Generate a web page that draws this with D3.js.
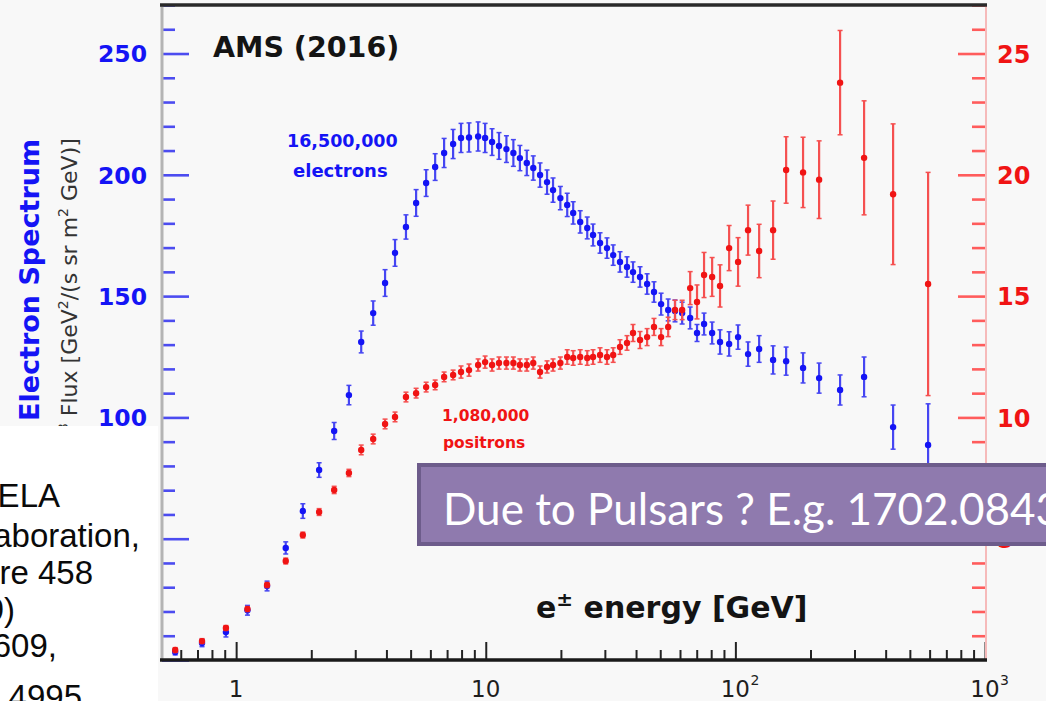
<!DOCTYPE html>
<html>
<head>
<meta charset="utf-8">
<script src="https://cdn.jsdelivr.net/npm/d3@7"></script>
<style>
  html, body { margin: 0; padding: 0; background: #f8f8f8; }
  svg { display: block; }
</style>
</head>
<body>
<svg id="chart" width="1046" height="701"></svg>
<script>
// AMS-02 (2016) electron and positron spectra, E^3-weighted flux.
// Shared energy bins [GeV]
const energy = [
  0.57, 0.73, 0.91, 1.11, 1.33, 1.58, 1.85, 2.15, 2.47, 2.83,
  3.17, 3.54, 3.95, 4.33, 4.79, 5.26, 5.77, 6.27, 6.81, 7.40,
  7.96, 8.57, 9.32, 9.94, 10.6, 11.3, 12.1, 12.9, 13.7, 14.6,
  15.5, 16.5, 17.6, 18.6, 19.9, 21.2, 22.4, 23.9, 25.5, 26.9,
  28.7, 30.6, 32.4, 34.5, 36.8, 38.9, 41.5, 44.3, 47.2, 50.4,
  53.8, 57.3, 61.2, 65.9, 70.2, 74.9, 80.7, 86.8, 94.4, 102.5,
  112.4, 124.5, 141.6, 159.7, 186.7, 216.5, 262.7, 327.8, 428.4, 591.6
];
// Electron flux x E^3 (left axis)
const electronFlux = [
  3.3, 7.0, 11.5, 20.5, 30.5, 46.2, 61.4, 78.3, 94.4, 109.2,
  131.1, 143.0, 155.4, 167.8, 178.5, 188.4, 196.6, 203.2, 209.0, 212.7,
  215.2, 215.4, 215.8, 215.2, 213.5, 211.9, 210.6, 209.0, 206.9, 204.9,
  202.8, 199.9, 197.0, 193.7, 190.4, 187.6, 184.3, 180.6, 178.1, 175.2,
  171.9, 169.8, 166.9, 164.1, 162.0, 159.9, 157.9, 155.0, 151.7, 146.7,
  144.3, 143.9, 143.0, 141.0, 134.8, 138.5, 134.8, 131.1, 130.3, 133.1,
  126.1, 128.2, 123.7, 123.2, 120.4, 116.2, 111.3, 116.7, 96.0, 88.6
];
const electronErr = [
  1.2, 1.5, 2.0, 2.0, 2.0, 2.5, 3.0, 3.0, 3.5, 4.0,
  4.5, 5.0, 5.5, 5.5, 5.0, 5.5, 5.5, 5.5, 6.0, 6.0,
  6.0, 6.0, 6.0, 6.0, 5.5, 5.5, 5.5, 5.5, 5.2, 5.2,
  5.0, 5.0, 5.0, 5.0, 4.8, 4.8, 4.6, 4.6, 4.5, 4.5,
  4.2, 4.2, 4.2, 4.2, 4.2, 4.2, 4.2, 4.2, 4.2, 4.5,
  4.5, 4.5, 4.5, 4.5, 3.5, 4.5, 4.5, 5.0, 5.0, 5.0,
  5.0, 5.5, 5.8, 5.8, 6.2, 6.2, 6.2, 8.2, 9.1, 17.0
];
// Positron flux x E^3 (right axis)
const positronFlux = [
  0.41, 0.78, 1.32, 2.10, 3.09, 4.08, 5.15, 6.10, 7.01, 7.71,
  8.66, 9.11, 9.73, 10.02, 10.84, 11.00, 11.25, 11.34, 11.67, 11.75,
  11.87, 11.95, 12.16, 12.28, 12.16, 12.24, 12.24, 12.24, 12.16, 12.16,
  12.24, 11.87, 12.08, 12.16, 12.24, 12.49, 12.45, 12.49, 12.45, 12.49,
  12.57, 12.49, 12.57, 12.90, 13.07, 13.48, 13.19, 13.31, 13.73, 13.31,
  13.73, 14.43, 14.43, 15.33, 14.76, 15.87, 15.79, 15.42, 16.98, 16.41,
  17.72, 16.86, 17.72, 20.2, 20.1, 19.8, 23.8, 20.7, 19.2, 15.5
];
const positronErr = [
  0.10, 0.10, 0.10, 0.10, 0.10, 0.12, 0.12, 0.14, 0.15, 0.15,
  0.20, 0.20, 0.20, 0.20, 0.20, 0.20, 0.20, 0.20, 0.20, 0.20,
  0.25, 0.25, 0.25, 0.25, 0.25, 0.25, 0.25, 0.25, 0.25, 0.25,
  0.25, 0.25, 0.25, 0.25, 0.25, 0.30, 0.30, 0.30, 0.30, 0.30,
  0.30, 0.30, 0.30, 0.30, 0.30, 0.35, 0.35, 0.35, 0.35, 0.35,
  0.40, 0.40, 0.40, 0.68, 0.70, 0.93, 0.80, 0.87, 0.93, 1.00,
  1.03, 1.10, 1.20, 1.37, 1.45, 1.60, 2.15, 2.35, 2.90, 4.60
];

// Tick values and labels
const leftMajorTicks = [0, 50, 100, 150, 200, 250];
const leftLabelled = [100, 150, 200, 250];
const rightMajorTicks = [5, 10, 15, 20, 25];
const xMajorTicks = [1, 10, 100, 1000];
const xTickLabels = [
  { value: 1, base: "1", exp: "" },
  { value: 10, base: "10", exp: "" },
  { value: 100, base: "10", exp: "2" },
  { value: 1000, base: "10", exp: "3" }
];
const noteLines = ["PAMELA", "Collaboration,", "Nature 458", "(2009)", "607-609,", "arXiv:0810.4995"];

const BLUE = "#1414f5";
const RED = "#f01414";
const W = 1046, H = 701;
const svg = d3.select("#chart");

const x = d3.scaleLog().domain([0.5, 1000]).range([161, 985]);
const yE = d3.scaleLinear().domain([0, 270]).range([660, 5]);
const yP = d3.scaleLinear().domain([0, 27]).range([660, 5]);

svg.append("rect").attr("width", W).attr("height", H).attr("fill", "#f8f8f8");

// ---- left (electron) axis: ticks pointing into the plot ----
const leftMinor = d3.range(0, 271, 10).filter(v => v % 50 !== 0);
const gLmin = svg.append("g").attr("transform", "translate(162,0)")
  .call(d3.axisLeft(yE).tickValues(leftMinor).tickSize(-13).tickFormat(""));
const gLmaj = svg.append("g").attr("transform", "translate(162,0)")
  .call(d3.axisLeft(yE).tickValues(leftMajorTicks).tickSize(-27).tickPadding(15)
    .tickFormat(d => leftLabelled.includes(d) ? d3.format("d")(d) : ""));
[gLmin, gLmaj].forEach(g => {
  g.select(".domain").remove();
  g.selectAll(".tick line").attr("stroke", "#4c4cf0").attr("stroke-width", 2.6);
});
gLmaj.selectAll(".tick text")
  .attr("fill", BLUE).attr("font-family", "DejaVu Sans").attr("font-weight", "bold")
  .attr("font-size", 23.5).attr("dy", "0.36em");

// ---- right (positron) axis ----
const rightMinor = d3.range(0, 27.1, 1).filter(v => v % 5 !== 0);
const gRmin = svg.append("g").attr("transform", "translate(986,0)")
  .call(d3.axisRight(yP).tickValues(rightMinor).tickSize(-14).tickFormat(""));
const gRmaj = svg.append("g").attr("transform", "translate(986,0)")
  .call(d3.axisRight(yP).tickValues(rightMajorTicks).tickSize(-28).tickPadding(11).tickFormat(d3.format("d")));
[gRmin, gRmaj].forEach(g => {
  g.select(".domain").remove();
  g.selectAll(".tick line").attr("stroke", "#ff5c5c").attr("stroke-width", 2.6);
});
gRmaj.selectAll(".tick text")
  .attr("fill", RED).attr("font-family", "DejaVu Sans").attr("font-weight", "bold")
  .attr("font-size", 24).attr("dy", "0.36em");

// ---- bottom (energy) axis ----
const xMinor = [];
[0.1, 1, 10, 100].forEach(dec => {
  for (let k = 2; k <= 9; k++) {
    const v = dec * k;
    if (v > 0.5 && v < 1000) xMinor.push(v);
  }
});
const gBmin = svg.append("g").attr("transform", "translate(0,660)")
  .call(d3.axisBottom(x).tickValues(xMinor).tickSize(-10).tickFormat(""));
const gBmaj = svg.append("g").attr("transform", "translate(0,660)")
  .call(d3.axisBottom(x).tickValues(xMajorTicks).tickSize(-18).tickFormat(""));
[gBmin, gBmaj].forEach(g => {
  g.select(".domain").remove();
  g.selectAll(".tick line").attr("stroke", "#222").attr("stroke-width", 2);
});

// frame lines
svg.append("line").attr("x1", 162).attr("x2", 162).attr("y1", 5).attr("y2", 660)
  .attr("stroke", "#b4b4b4").attr("stroke-width", 3);
svg.append("line").attr("x1", 986).attr("x2", 986).attr("y1", 5).attr("y2", 660)
  .attr("stroke", "#f6baba").attr("stroke-width", 2);
svg.append("line").attr("x1", 160).attr("x2", 987).attr("y1", 5).attr("y2", 5)
  .attr("stroke", "#2a2a2a").attr("stroke-width", 3.5);
svg.append("line").attr("x1", 160).attr("x2", 987).attr("y1", 660).attr("y2", 660)
  .attr("stroke", "#1a1a1a").attr("stroke-width", 3.5);

// energy tick labels with exponents
const xl = svg.append("g").attr("font-family", "DejaVu Sans").attr("fill", "#1e1e1e");
xTickLabels.forEach(t => {
  xl.append("text").attr("x", x(t.value)).attr("y", 697).attr("text-anchor", "middle")
    .attr("font-size", 23).text(t.base);
  if (t.exp) {
    xl.append("text").attr("x", x(t.value) + 15).attr("y", 685)
      .attr("font-size", 14).text(t.exp);
  }
});

// ---- data: error bars and markers ----
function drawSeries(values, errs, yScale, color, barColor) {
  const pts = energy.map((e, i) => ({ e, v: values[i], err: errs[i] }));
  const g = svg.append("g");
  g.selectAll("line.bar").data(pts).join("line").attr("class", "bar")
    .attr("x1", d => x(d.e)).attr("x2", d => x(d.e))
    .attr("y1", d => yScale(d.v - d.err)).attr("y2", d => yScale(d.v + d.err))
    .attr("stroke", barColor).attr("stroke-width", 2.2);
  g.selectAll("line.capTop").data(pts).join("line").attr("class", "capTop")
    .attr("x1", d => x(d.e) - 2.5).attr("x2", d => x(d.e) + 2.5)
    .attr("y1", d => yScale(d.v + d.err)).attr("y2", d => yScale(d.v + d.err))
    .attr("stroke", barColor).attr("stroke-width", 1.5);
  g.selectAll("line.capBot").data(pts).join("line").attr("class", "capBot")
    .attr("x1", d => x(d.e) - 2.5).attr("x2", d => x(d.e) + 2.5)
    .attr("y1", d => yScale(d.v - d.err)).attr("y2", d => yScale(d.v - d.err))
    .attr("stroke", barColor).attr("stroke-width", 1.5);
  g.selectAll("circle").data(pts).join("circle")
    .attr("cx", d => x(d.e)).attr("cy", d => yScale(d.v)).attr("r", 3.2)
    .attr("fill", color);
}
drawSeries(electronFlux, electronErr, yE, BLUE, "#4646f2");
drawSeries(positronFlux, positronErr, yP, RED, "#f55050");

// ---- titles and annotations ----
svg.append("text").attr("x", 213).attr("y", 57)
  .attr("font-family", "DejaVu Sans").attr("font-weight", "bold").attr("font-size", 28.5)
  .attr("fill", "#141414").text("AMS (2016)");

svg.append("text").attr("x", 287).attr("y", 147)
  .attr("font-family", "DejaVu Sans").attr("font-weight", "bold").attr("font-size", 17.5)
  .attr("fill", BLUE).text("16,500,000");
svg.append("text").attr("x", 293).attr("y", 177)
  .attr("font-family", "DejaVu Sans").attr("font-weight", "bold").attr("font-size", 18)
  .attr("fill", BLUE).text("electrons");

svg.append("text").attr("x", 442).attr("y", 421)
  .attr("font-family", "DejaVu Sans").attr("font-weight", "bold").attr("font-size", 15.5)
  .attr("fill", RED).text("1,080,000");
svg.append("text").attr("x", 443).attr("y", 448)
  .attr("font-family", "DejaVu Sans").attr("font-weight", "bold").attr("font-size", 15.5)
  .attr("fill", RED).text("positrons");

const xt = svg.append("text").attr("x", 536).attr("y", 618)
  .attr("font-family", "DejaVu Sans").attr("font-weight", "bold").attr("font-size", 30)
  .attr("fill", "#141414");
xt.append("tspan").text("e");
xt.append("tspan").attr("font-size", 20).attr("dy", -12).text("±");
xt.append("tspan").attr("dy", 12).text(" energy [GeV]");

// y-axis titles (rotated)
svg.append("text").attr("transform", "translate(38.5,421) rotate(-90)")
  .attr("font-family", "DejaVu Sans").attr("font-weight", "bold").attr("font-size", 27)
  .attr("fill", BLUE).text("Electron Spectrum");
const yt = svg.append("text").attr("transform", "translate(77,446) rotate(-90)")
  .attr("font-family", "DejaVu Sans").attr("font-size", 22).attr("fill", "#333");
yt.append("tspan").text("E");
yt.append("tspan").attr("font-size", 14).attr("dy", -9).text("3");
yt.append("tspan").attr("dy", 9).text(" Flux [GeV");
yt.append("tspan").attr("font-size", 14).attr("dy", -9).text("2");
yt.append("tspan").attr("dy", 9).text("/(s sr m");
yt.append("tspan").attr("font-size", 14).attr("dy", -9).text("2");
yt.append("tspan").attr("dy", 9).text(" GeV)]");

// reference note block over the lower-left corner
svg.append("rect").attr("x", 0).attr("y", 426).attr("width", 158).attr("height", H - 426)
  .attr("fill", "#ffffff");
const noteY = [507, 547, 584, 621, 657, 708];
const noteEnd = [60, 140, 93, 15, 57, 82];
const note = svg.append("g").attr("font-family", "Liberation Sans").attr("font-size", 33)
  .attr("fill", "#0a0a0a");
noteLines.forEach((s, i) => {
  note.append("text").attr("x", noteEnd[i]).attr("y", noteY[i]).attr("text-anchor", "end").text(s);
});

// highlighted remark
svg.append("rect").attr("x", 419).attr("y", 465).attr("width", 700).attr("height", 79)
  .attr("fill", "#8f7aae").attr("stroke", "#6d5c8b").attr("stroke-width", 4);
svg.append("text").attr("x", 443).attr("y", 525)
  .attr("font-family", "Lato").attr("font-size", 44).attr("fill", "#ffffff")
  .text("Due to Pulsars ? E.g. 1702.08436");
</script>
</body>
</html>
